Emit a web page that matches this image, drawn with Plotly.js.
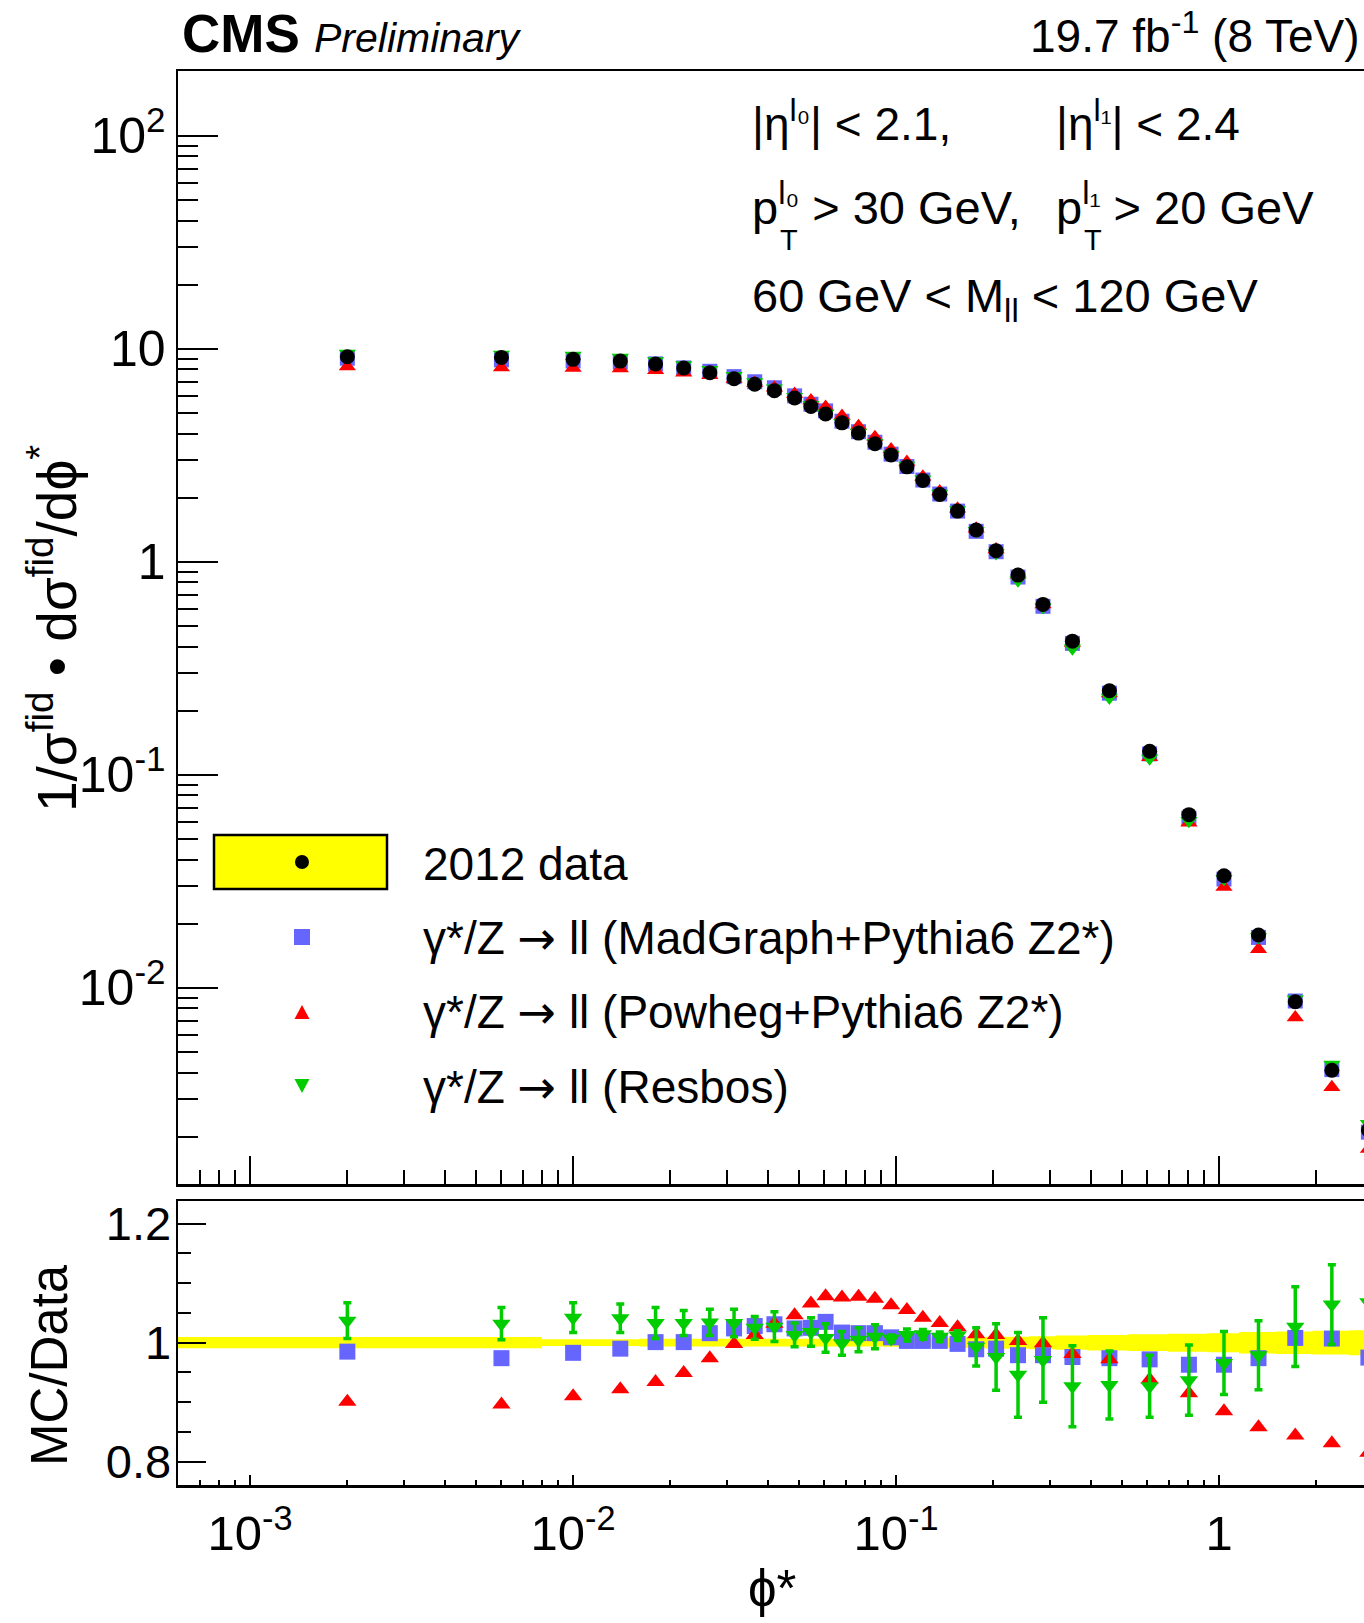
<!DOCTYPE html>
<html><head><meta charset="utf-8">
<script src="https://cdn.plot.ly/plotly-3.0.1.min.js"></script>
<style>html,body{margin:0;padding:0;background:#fff;overflow:hidden}</style>
</head><body><div id="chart" style="width:1364px;height:1623px"></div>
<script>
// ---------------- data ----------------
const binEdges = [0, 0.004, 0.008, 0.012, 0.016, 0.020, 0.024, 0.029, 0.034, 0.039, 0.045, 0.052, 0.057, 0.064, 0.072, 0.081, 0.091, 0.102, 0.114, 0.128, 0.145, 0.165, 0.189, 0.219, 0.258, 0.312, 0.391, 0.524, 0.695, 0.918, 1.153, 1.496, 1.947, 2.522, 3.277];
const phiStar = [0.002, 0.006, 0.010, 0.014, 0.018, 0.022, 0.0265, 0.0315, 0.0365, 0.042, 0.0485, 0.0545, 0.0605, 0.068, 0.0765, 0.086, 0.0965, 0.108, 0.121, 0.1365, 0.155, 0.177, 0.204, 0.2385, 0.285, 0.3515, 0.4575, 0.6095, 0.8065, 1.0355, 1.3245, 1.7215, 2.2345, 2.8995];

const dataXsec = [9.17, 9.11, 8.92, 8.75, 8.48, 8.12, 7.72, 7.23, 6.81, 6.36, 5.87, 5.36, 4.94, 4.49, 4.02, 3.58, 3.17, 2.79, 2.41, 2.07, 1.73, 1.41, 1.126, 0.866, 0.631, 0.424, 0.248, 0.129, 0.065, 0.0336, 0.0177, 0.0086, 0.0041, 0.00215];
const madgraphXsec = [9.03, 8.87, 8.77, 8.66, 8.49, 8.13, 7.84, 7.40, 7.00, 6.56, 6.01, 5.49, 5.11, 4.57, 4.08, 3.64, 3.20, 2.80, 2.42, 2.08, 1.73, 1.39, 1.115, 0.848, 0.618, 0.414, 0.2416, 0.1254, 0.0626, 0.0324, 0.01724, 0.00867, 0.00413, 0.0021];
const powhegXsec = [8.26, 8.16, 8.12, 8.07, 7.92, 7.71, 7.52, 7.22, 6.90, 6.56, 6.14, 5.71, 5.33, 4.83, 4.33, 3.84, 3.37, 2.94, 2.51, 2.14, 1.775, 1.43, 1.141, 0.869, 0.630, 0.416, 0.241, 0.121, 0.0595, 0.0297, 0.01519, 0.00726, 0.00341, 0.00175];
const resbosXsec = [9.51, 9.40, 9.29, 9.11, 8.76, 8.39, 7.98, 7.47, 6.98, 6.53, 5.95, 5.46, 4.98, 4.49, 4.04, 3.62, 3.19, 2.83, 2.44, 2.09, 1.75, 1.40, 1.099, 0.819, 0.613, 0.393, 0.2304, 0.1196, 0.0609, 0.0325, 0.01733, 0.00883, 0.00436, 0.0023];

const madgraphRatio = [0.985, 0.974, 0.983, 0.990, 1.001, 1.001, 1.016, 1.024, 1.028, 1.031, 1.024, 1.025, 1.035, 1.017, 1.016, 1.016, 1.009, 1.003, 1.003, 1.003, 0.998, 0.989, 0.990, 0.979, 0.979, 0.976, 0.974, 0.972, 0.963, 0.963, 0.974, 1.008, 1.007, 0.975];
const powhegRatio = [0.901, 0.896, 0.910, 0.922, 0.934, 0.949, 0.974, 0.998, 1.013, 1.032, 1.046, 1.066, 1.078, 1.076, 1.077, 1.074, 1.063, 1.055, 1.042, 1.033, 1.026, 1.014, 1.013, 1.003, 0.999, 0.981, 0.972, 0.938, 0.915, 0.885, 0.858, 0.844, 0.831, 0.815];
const resbosRatio = [1.037, 1.032, 1.042, 1.041, 1.033, 1.033, 1.034, 1.033, 1.025, 1.027, 1.013, 1.018, 1.008, 0.999, 1.005, 1.010, 1.007, 1.013, 1.014, 1.010, 1.012, 0.993, 0.976, 0.946, 0.971, 0.927, 0.929, 0.927, 0.937, 0.966, 0.979, 1.027, 1.064, 1.068];
const resbosRatioErr = [0.030, 0.027, 0.025, 0.024, 0.026, 0.021, 0.022, 0.023, 0.019, 0.025, 0.020, 0.024, 0.024, 0.020, 0.020, 0.020, 0.006, 0.010, 0.008, 0.008, 0.008, 0.032, 0.056, 0.071, 0.071, 0.068, 0.057, 0.052, 0.059, 0.053, 0.058, 0.067, 0.067, 0.067];
const dataRelErr = [0.0095, 0.0095, 0.0056, 0.0056, 0.0065, 0.0065, 0.0065, 0.0065, 0.0065, 0.0065, 0.0065, 0.0065, 0.0065, 0.0065, 0.0065, 0.0065, 0.007, 0.007, 0.0075, 0.008, 0.0085, 0.009, 0.010, 0.010, 0.011, 0.012, 0.013, 0.014, 0.015, 0.016, 0.018, 0.019, 0.020, 0.021];

const xTickVals = [0.001, 0.01, 0.1, 1];
const xTickText = ['10<sup>-3</sup>', '10<sup>-2</sup>', '10<sup>-1</sup>', '1'];
const yTickVals = [0.01, 0.1, 1, 10, 100];
const yTickText = ['10<sup>-2</sup>', '10<sup>-1</sup>', '1', '10', '10<sup>2</sup>'];
const rTickVals = [0.8, 1.0, 1.2];
const rTickText = ['0.8', '1', '1.2'];

const ARROW = '<span style="font-family:DejaVu Sans">→</span>';
const legendLabels = ['2012 data',
  'γ*/Z ' + ARROW + ' ll (MadGraph+Pythia6 Z2*)',
  'γ*/Z ' + ARROW + ' ll (Powheg+Pythia6 Z2*)',
  'γ*/Z ' + ARROW + ' ll (Resbos)'];

// ---------------- styles / geometry ----------------
const FONT = 'Liberation Sans, Arial, Helvetica, sans-serif';
const BLUE = '#6666ff', RED = '#ff0000', GREEN = '#00cc00';
const PW = 1364, PH = 1623;
const L = 178, R = 1364, T = 71, B = 1485;
const W = R - L, H = B - T;
const topPanelBottom = 1184, ratioTop = 1201;
const px = x => (x - L) / W;
const py = y => (B - y) / H;

// band as step function
const stepX = binEdges.map(e => e === 0 ? 1e-4 : e);
const bandUp = dataRelErr.map(e => 1 + e); bandUp.push(bandUp[bandUp.length - 1]);
const bandLo = dataRelErr.map(e => 1 - e); bandLo.push(bandLo[bandLo.length - 1]);

const traces = [
  {x: stepX, y: bandLo, xaxis: 'x2', yaxis: 'y2', mode: 'lines', line: {width: 0, shape: 'hv', color: '#ffff00'}, hoverinfo: 'skip'},
  {x: stepX, y: bandUp, xaxis: 'x2', yaxis: 'y2', mode: 'lines', line: {width: 0, shape: 'hv', color: '#ffff00'}, fill: 'tonexty', fillcolor: '#ffff00', hoverinfo: 'skip'},
  {x: phiStar, y: madgraphRatio, xaxis: 'x2', yaxis: 'y2', mode: 'markers', marker: {symbol: 'square', size: 16, color: BLUE}},
  {x: phiStar, y: powhegRatio, xaxis: 'x2', yaxis: 'y2', mode: 'markers', marker: {symbol: 'triangle-up', size: 16, color: RED}},
  {x: phiStar, y: resbosRatio, xaxis: 'x2', yaxis: 'y2', mode: 'markers', marker: {symbol: 'triangle-down', size: 16, color: GREEN},
   error_y: {type: 'data', array: resbosRatioErr, visible: true, color: GREEN, thickness: 3.5, width: 4}},
  {x: phiStar, y: madgraphXsec, xaxis: 'x', yaxis: 'y', mode: 'markers', marker: {symbol: 'square', size: 15, color: BLUE}},
  {x: phiStar, y: powhegXsec, xaxis: 'x', yaxis: 'y', mode: 'markers', marker: {symbol: 'triangle-up', size: 15, color: RED}},
  {x: phiStar, y: resbosXsec, xaxis: 'x', yaxis: 'y', mode: 'markers', marker: {symbol: 'triangle-down', size: 15, color: GREEN}},
  {x: phiStar, y: dataXsec, xaxis: 'x', yaxis: 'y', mode: 'markers', marker: {symbol: 'circle', size: 15, color: 'black'}}
];

const xRange = [Math.log10(5.98e-4), Math.log10(2.81)];
const axLine = {showline: true, linecolor: 'black', linewidth: 2.5, showgrid: false, zeroline: false, ticks: 'inside', tickcolor: 'black', tickwidth: 2};

function ann(text, x, y, size, xanchor, yanchor, extra) {
  return Object.assign({xref: 'paper', yref: 'paper', x: px(x), y: py(y), text: text, showarrow: false,
    xanchor: xanchor, yanchor: yanchor, font: {family: FONT, size: size, color: 'black'}}, extra || {});
}

const annotations = [
  ann('<b>CMS</b>', 180, 65, 53, 'left', 'bottom'),
  ann('<i>Preliminary</i>', 312, 63, 41, 'left', 'bottom'),
  ann('19.7 fb<sup>-1</sup> (8 TeV)', 1362, 64, 46, 'right', 'bottom'),
  ann('|η<sup>l₀</sup>| < 2.1,', 750, 151.5, 46, 'left', 'bottom'),
  ann('|η<sup>l₁</sup>| < 2.4', 1054, 151.5, 46, 'left', 'bottom'),
  ann('p<sup>l₀</sup> > 30 GeV,', 750, 236.5, 47, 'left', 'bottom'),
  ann('T', 778, 240, 29, 'left', 'middle'),
  ann('p<sup>l₁</sup> > 20 GeV', 1054, 236.5, 47, 'left', 'bottom'),
  ann('T', 1082, 240, 29, 'left', 'middle'),
  ann('60 GeV < M<sub>ll</sub> < 120 GeV', 750, 267, 47, 'left', 'top'),
  ann(legendLabels[0], 421, 864, 46, 'left', 'middle'),
  ann(legendLabels[1], 421, 938, 46, 'left', 'middle'),
  ann(legendLabels[2], 421, 1012, 46, 'left', 'middle'),
  ann(legendLabels[3], 421, 1087, 46, 'left', 'middle'),
  ann('1/σ<sup>fid</sup> • dσ<sup>fid</sup>/dϕ<sup>*</sup>', 53, 629, 55, 'center', 'middle', {textangle: -90}),
  ann('MC/Data', 49, 1365, 51, 'center', 'middle', {textangle: -90}),
  ann('ϕ*', 746, 1619, 51, 'left', 'bottom')
];

function rectPx(x0, y0, x1, y1, fill, line) {
  return {type: 'rect', xref: 'paper', yref: 'paper', x0: px(x0), x1: px(x1), y0: py(y1), y1: py(y0),
    fillcolor: fill, line: line || {width: 0}, layer: 'above'};
}
function pathPx(pts, fill) {
  const d = pts.map((p, i) => (i ? 'L' : 'M') + px(p[0]) + ',' + py(p[1])).join(' ') + ' Z';
  return {type: 'path', xref: 'paper', yref: 'paper', path: d, fillcolor: fill, line: {width: 0}, layer: 'above'};
}
const shapes = [
  rectPx(214, 835, 387, 889, '#ffff00', {color: 'black', width: 2.5}),
  {type: 'circle', xref: 'paper', yref: 'paper', x0: px(295), x1: px(309), y0: py(869), y1: py(855), fillcolor: 'black', line: {width: 0}, layer: 'above'},
  rectPx(294, 929, 310, 945, BLUE),
  pathPx([[294.5, 1019], [309.5, 1019], [302, 1005]], RED),
  pathPx([[294.5, 1079], [309.5, 1079], [302, 1093]], GREEN)
];

const layout = {
  width: PW, height: PH,
  margin: {l: L, r: PW - R, t: T, b: PH - B, pad: 0},
  paper_bgcolor: 'white', plot_bgcolor: 'white', showlegend: false,
  font: {family: FONT, color: 'black'},
  xaxis: Object.assign({}, axLine, {type: 'log', range: xRange, domain: [0, 1], anchor: 'y', mirror: true,
    showticklabels: false, tickmode: 'array', tickvals: xTickVals, ticklen: 28,
    minor: {dtick: 'D1', ticks: 'inside', ticklen: 14, tickwidth: 2, tickcolor: 'black', showgrid: false}}),
  yaxis: Object.assign({}, axLine, {type: 'log', range: [-2.921, 2.304], domain: [(B - topPanelBottom) / H, 1], anchor: 'x', mirror: false,
    tickmode: 'array', tickvals: yTickVals, ticktext: yTickText, ticklen: 40, ticklabelstandoff: 0,
    tickfont: {family: FONT, size: 50, color: 'black'},
    minor: {dtick: 'D1', ticks: 'inside', ticklen: 20, tickwidth: 2, tickcolor: 'black', showgrid: false}}),
  xaxis2: Object.assign({}, axLine, {type: 'log', range: xRange, domain: [0, 1], anchor: 'y2', mirror: true,
    tickmode: 'array', tickvals: xTickVals, ticktext: xTickText, ticklen: 10, ticklabelstandoff: 4,
    tickfont: {family: FONT, size: 49, color: 'black'},
    minor: {dtick: 'D1', ticks: 'inside', ticklen: 5, tickwidth: 2, tickcolor: 'black', showgrid: false}}),
  yaxis2: Object.assign({}, axLine, {range: [0.761, 1.238], domain: [0, (B - ratioTop) / H], anchor: 'x2', mirror: false,
    tickmode: 'array', tickvals: rTickVals, ticktext: rTickText, ticklen: 28, ticklabelstandoff: -5,
    tickfont: {family: FONT, size: 47, color: 'black'},
    minor: {tick0: 0.8, dtick: 0.05, ticks: 'inside', ticklen: 13, tickwidth: 2, tickcolor: 'black', showgrid: false}}),
  annotations: annotations,
  shapes: shapes
};

Plotly.newPlot('chart', traces, layout, {displayModeBar: false, staticPlot: true});
</script>
</body></html>
